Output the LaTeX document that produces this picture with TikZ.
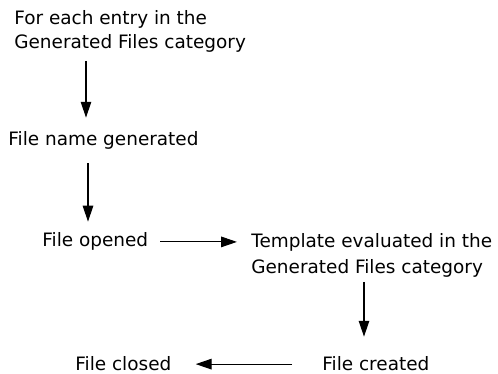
\documentclass[tikz,border=0pt]{standalone}
\usepackage{fontspec}
\setmainfont{DejaVu Sans}
\usetikzlibrary{arrows.meta, calc}

\begin{document}
\begin{tikzpicture}[x=0.02cm, y=-0.02cm,
    lbl/.style={inner sep=0pt, font=\fontsize{10.5}{13.8}\selectfont},
    arr/.style={-{Triangle[length=9pt, width=6pt]}, line width=0.6pt},
]
    \useasboundingbox (0,0) rectangle (498,374);

    % Left column: loop over the generated files
    \node[lbl, anchor=north west, align=left] (entry) at (14,10) {For each entry in the\\Generated Files category};
    \node[lbl, anchor=base west] (fname)  at (8,146)  {File name generated};
    \node[lbl, anchor=base west] (opened) at (42,247) {File opened};

    % Right side: template evaluation and file creation
    \node[lbl, anchor=north west, align=left, font=\fontsize{10.5}{15}\selectfont] (templ) at (251,233) {Template evaluated in the\\Generated Files category};
    \node[lbl, anchor=base west] (created) at (322,371) {File created};
    \node[lbl, anchor=base west] (closed)  at (75,371)  {File closed};

    % Arrows down the left column
    \draw[arr, shorten <=4.6pt, shorten >=8pt] (86,0 |- entry.south) -- (86,0 |- fname.north);
    \draw[arr, shorten <=7.4pt, shorten >=6.3pt] (88,0 |- fname.south) -- (88,0 |- opened.north);

    % Across, down, and back
    \draw[arr, shorten <=6.8pt, shorten >=8pt] (opened.east) -- (opened.east -| templ.west);
    \draw[arr, shorten <=2.3pt, shorten >=11.4pt] (364,0 |- templ.south) -- (364,0 |- created.north);
    \draw[arr, shorten <=17pt, shorten >=13.7pt] (created.west) -- (created.west -| closed.east);
\end{tikzpicture}
\end{document}
